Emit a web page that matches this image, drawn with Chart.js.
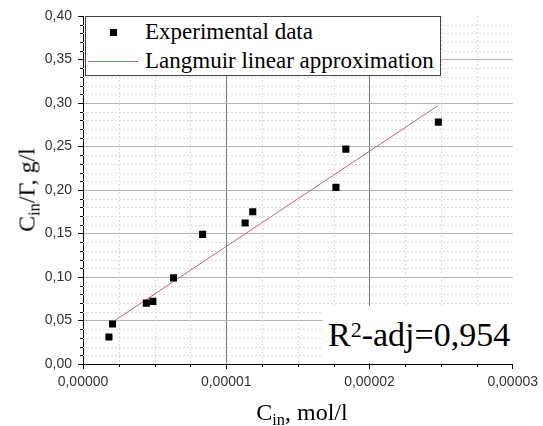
<!DOCTYPE html>
<html>
<head>
<meta charset="utf-8">
<script src="https://cdn.jsdelivr.net/npm/chart.js@4.4.1/dist/chart.umd.min.js"></script>
<style>
html,body{margin:0;padding:0;background:#fff;}
#wrap{position:relative;width:543px;height:426px;overflow:hidden;background:#fff;}
canvas{position:absolute;left:0;top:0;}
.serif{font-family:"Liberation Serif","Times New Roman",serif;color:#000;white-space:nowrap;position:absolute;}
.sub{position:relative;top:0.32em;font-size:0.68em;}
</style>
</head>
<body>
<div id="wrap">
<canvas id="c" width="543" height="426"></canvas>
</div>
<script>
// ---- data ----
const xValues = [0.00000181, 0.00000206, 0.00000442, 0.00000488, 0.00000632, 0.00000835, 0.00001132, 0.00001185, 0.00001766, 0.00001835, 0.00002481];
const yValues = [0.031, 0.046, 0.070, 0.072, 0.099, 0.149, 0.162, 0.175, 0.203, 0.247, 0.278];
const fitX = [0.00000204, 0.00002479];
const fitY = [0.048, 0.297];
const seriesNames = ['Experimental data', 'Langmuir linear approximation'];
const xTickValues = [0, 0.00001, 0.00002, 0.00003];
const xTickLabels = ['0,00000', '0,00001', '0,00002', '0,00003'];
const yTickValues = [0, 0.05, 0.10, 0.15, 0.20, 0.25, 0.30, 0.35, 0.40];
const yTickLabels = ['0,00', '0,05', '0,10', '0,15', '0,20', '0,25', '0,30', '0,35', '0,40'];
const xMinorStep = 0.0000025;
const yMinorStep = 0.01;
const r2Text = ['R', '2', '-adj=0,954'];
const xTitle = ['C', 'in', ', mol/l'];
const yTitle = ['C', 'in', '/Γ, g/l'];

const lineColor = 'rgb(200,100,100)';

const minorPlugin = {
  id: 'minor',
  beforeDatasetsDraw(chart) {
    const {ctx, chartArea: a, scales: {x, y}} = chart;
    ctx.save();
    ctx.strokeStyle = '#dcdcdc';
    ctx.lineWidth = 1;
    ctx.setLineDash([2, 2]);
    const nx = Math.round((x.max - x.min) / xMinorStep);
    for (let i = 1; i < nx; i++) {
      if (i % 4 === 0) continue;
      const px = Math.round(x.getPixelForValue(i * xMinorStep)) + 0.5;
      ctx.beginPath(); ctx.moveTo(px, a.top); ctx.lineTo(px, a.bottom); ctx.stroke();
    }
    const ny = Math.round((y.max - y.min) / yMinorStep);
    for (let i = 1; i < ny; i++) {
      if (i % 5 === 0) continue;
      const py = Math.round(y.getPixelForValue(i * yMinorStep)) + 0.5;
      ctx.beginPath(); ctx.moveTo(a.left, py); ctx.lineTo(a.right, py); ctx.stroke();
    }
    ctx.restore();
  },
  afterDraw(chart) {
    const {ctx, chartArea: a, scales: {x, y}} = chart;
    ctx.save();
    ctx.strokeStyle = '#000';
    ctx.lineWidth = 1;
    const nx = Math.round((x.max - x.min) / xMinorStep);
    for (let i = 1; i < nx; i++) {
      if (i % 4 === 0) continue;
      const px = Math.round(x.getPixelForValue(i * xMinorStep)) + 0.5;
      ctx.beginPath(); ctx.moveTo(px, a.bottom); ctx.lineTo(px, a.bottom + 3); ctx.stroke();
    }
    const ny = Math.round((y.max - y.min) / yMinorStep);
    for (let i = 1; i < ny; i++) {
      if (i % 5 === 0) continue;
      const py = Math.round(y.getPixelForValue(i * yMinorStep)) + 0.5;
      ctx.beginPath(); ctx.moveTo(a.left - 3, py); ctx.lineTo(a.left, py); ctx.stroke();
    }
    ctx.restore();
  }
};

const chart = new Chart(document.getElementById('c'), {
  type: 'scatter',
  data: {
    datasets: [
      {
        label: seriesNames[0],
        data: xValues.map((v, i) => ({x: v, y: yValues[i]})),
        pointStyle: 'rect',
        pointRadius: 5,
        backgroundColor: '#000',
        borderWidth: 0,
        showLine: false
      },
      {
        label: seriesNames[1],
        type: 'line',
        data: fitX.map((v, i) => ({x: v, y: fitY[i]})),
        borderColor: lineColor,
        borderWidth: 1,
        pointRadius: 0,
        fill: false,
        tension: 0
      }
    ]
  },
  options: {
    responsive: false,
    devicePixelRatio: 1,
    animation: false,
    layout: {padding: {top: 16, right: 28, left: 0, bottom: 0}},
    plugins: {legend: {display: false}, tooltip: {enabled: false}},
    scales: {
      x: {
        type: 'linear',
        min: 0, max: 0.00003,
        afterBuildTicks: s => { s.ticks = xTickValues.map(v => ({value: v})); },
        afterFit: s => { s.height = 62; },
        ticks: {
          callback: (v, i) => xTickLabels[i],
          font: {family: '"Liberation Sans", Arial, sans-serif', size: 14},
          color: '#333', padding: 5, maxRotation: 0, autoSkip: false
        },
        grid: {
          color: c => (c.index === 0 || c.index === xTickValues.length - 1) ? 'rgba(0,0,0,0)' : '#7c7c7c',
          tickColor: '#000', tickLength: 5, lineWidth: 1
        },
        border: {display: true, color: '#000', width: 1}
      },
      y: {
        type: 'linear',
        min: 0, max: 0.40,
        afterBuildTicks: s => { s.ticks = yTickValues.map(v => ({value: v})); },
        afterFit: s => { s.width = 83; },
        ticks: {
          callback: (v, i) => yTickLabels[i],
          font: {family: '"Liberation Sans", Arial, sans-serif', size: 14},
          color: '#333', padding: 6, autoSkip: false
        },
        grid: {
          color: c => (c.index === 0 || c.index === yTickValues.length - 1) ? 'rgba(0,0,0,0)' : '#b4b4b4',
          tickColor: '#000', tickLength: 5, lineWidth: 1
        },
        border: {display: true, color: '#000', width: 1}
      }
    }
  },
  plugins: [minorPlugin]
});

// ---- text overlays (legend, R², axis titles) ----
const wrap = document.getElementById('wrap');
function el(tag, css, html) {
  const d = document.createElement(tag);
  d.style.cssText = css;
  if (html !== undefined) d.innerHTML = html;
  wrap.appendChild(d);
  return d;
}
const a = chart.chartArea;

// legend box
el('div', `position:absolute;left:${a.left + 2}px;top:${a.top}px;width:356px;height:60px;border:1px solid #444;background:#fff;box-sizing:border-box;`);
el('div', `position:absolute;left:110px;top:29px;width:7px;height:7px;background:#000;`);
el('div', `position:absolute;left:88px;top:61px;width:50px;height:1px;background:${lineColor};`);
el('div', `left:145px;top:20px;font-size:23px;line-height:23px;`, seriesNames[0]).className = 'serif';
el('div', `left:145px;top:49px;font-size:23px;line-height:23px;`, seriesNames[1]).className = 'serif';

// R² box
el('div', `position:absolute;left:323px;top:306px;width:${a.right - 323}px;height:${a.bottom - 306 - 1}px;background:#fff;`);
el('div', `left:328px;top:318px;font-size:34px;line-height:34px;`,
  `${r2Text[0]}<span style="position:relative;top:-9px;font-size:22px;">${r2Text[1]}</span>${r2Text[2]}`).className = 'serif';

// axis titles
el('div', `left:302px;top:400px;font-size:24px;line-height:24px;transform:translateX(-50%);`,
  `${xTitle[0]}<span class="sub">${xTitle[1]}</span>${xTitle[2]}`).className = 'serif';
el('div', `left:28px;top:190px;font-size:24px;line-height:24px;transform:translate(-50%,-50%) rotate(-90deg);`,
  `${yTitle[0]}<span class="sub">${yTitle[1]}</span>${yTitle[2]}`).className = 'serif';
</script>
</body>
</html>
